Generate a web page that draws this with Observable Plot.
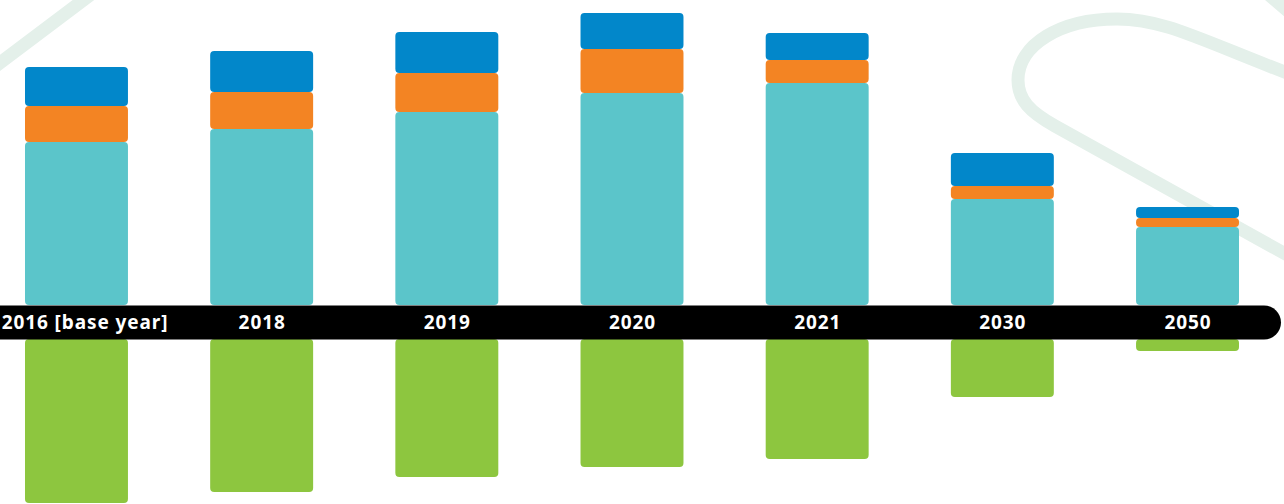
<!DOCTYPE html>
<html>
<head>
<meta charset="utf-8">
<script src="https://cdn.jsdelivr.net/npm/d3@7"></script>
<script src="https://cdn.jsdelivr.net/npm/@observablehq/plot@0.6"></script>
<style>
  html, body { margin: 0; padding: 0; background: #ffffff; }
  #wrap { position: relative; width: 1284px; height: 504px; overflow: hidden; }
  #deco { position: absolute; left: 0; top: 0; }
  #chart { position: absolute; left: 0; top: 0; }
  #chart text { letter-spacing: 0.9px; }
</style>
</head>
<body>
<div id="wrap">
  <svg id="deco" width="1284" height="504" viewBox="0 0 1284 504">
    <g fill="none" stroke="#e4f0ea" stroke-width="13" stroke-linecap="round">
      <path d="M 110 -20 L -20 78"></path>
      <path d="M 1240 -30 L 1310 30"></path>
      <path d="M 1300 78 C 1200 40, 1165 19, 1117 19 C 1060 19, 1018 45, 1018 80 C 1018 100, 1030 112, 1055 126 L 1300 262"></path>
    </g>
  </svg>
  <div id="chart"></div>
</div>
<script>
// Categories (x axis labels)
const categories = ["2016 [base year]", "2018", "2019", "2020", "2021", "2030", "2050"];
// Stacked positive series (bottom to top)
const series1Values = [163, 176, 193, 212, 222, 106, 78];
const series2Values = [36, 37, 39, 44, 23, 13, 9];
const series3Values = [39, 41, 41, 36, 27, 33, 11];
// Negative series (below the axis band)
const series4Values = [164, 153, 138, 128, 120, 58, 12];

const seriesNames = ["Series 1", "Series 2", "Series 3", "Series 4"];
const seriesColors = ["#5bc5ca", "#f38423", "#0287ca", "#8dc63f"];

const stacked = [];
categories.forEach((c, i) => {
  stacked.push({category: c, series: seriesNames[0], value: series1Values[i]});
  stacked.push({category: c, series: seriesNames[1], value: series2Values[i]});
  stacked.push({category: c, series: seriesNames[2], value: series3Values[i]});
});
const negative = categories.map((c, i) => ({category: c, series: seriesNames[3], value: -series4Values[i]}));

const labelStyle = {
  y: () => 0, text: d => d, dy: 17,
  fill: "#ffffff", fontSize: 19, fontWeight: 700,
  fontFamily: "'Noto Sans', Lato, sans-serif"
};

const chart = Plot.plot({
  width: 1284,
  height: 504,
  marginTop: 0,
  marginBottom: 0,
  marginLeft: 0,
  marginRight: 20,
  style: {background: "transparent", overflow: "visible"},
  x: {domain: categories, axis: null, paddingInner: 0.444, paddingOuter: 0.135, round: false},
  y: {domain: [-199, 305], axis: null},
  color: {domain: seriesNames, range: seriesColors},
  marks: [
    Plot.barY(stacked, {x: "category", y: "value", fill: "series", rx: 4}),
    Plot.barY(negative, {x: "category", y: "value", fill: "series", rx: 4, dy: 34}),
    Plot.ruleY([0], {stroke: "#000000", strokeWidth: 34, dy: 17, strokeLinecap: "round"}),
    Plot.text(categories.slice(0, 1), {...labelStyle, x: d => d, dx: 8}),
    Plot.text(categories.slice(1), {...labelStyle, x: d => d})
  ]
});
document.getElementById("chart").appendChild(chart);
</script>
</body>
</html>
